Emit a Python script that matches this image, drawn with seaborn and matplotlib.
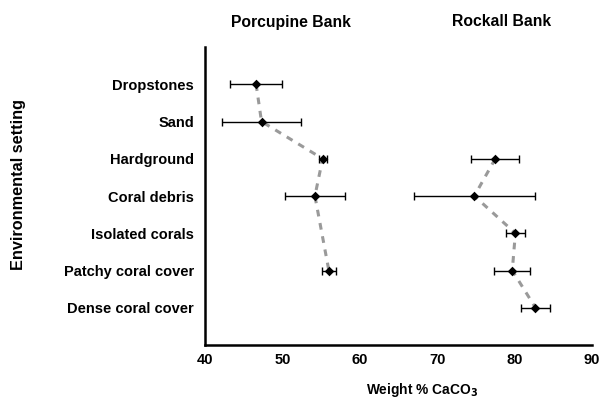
import matplotlib
matplotlib.use("Agg")
import matplotlib.pyplot as plt
import seaborn as sns
import pandas as pd
import numpy as np

sns.set_style("white")
plt.rcParams["font.family"] = ["Liberation Sans", "DejaVu Sans"]
plt.rcParams["font.weight"] = "bold"
plt.rcParams["text.color"] = "black"
plt.rcParams["axes.labelcolor"] = "black"
plt.rcParams["xtick.color"] = "black"
plt.rcParams["ytick.color"] = "black"

settings = ["Dropstones", "Sand", "Hardground", "Coral debris",
            "Isolated corals", "Patchy coral cover", "Dense coral cover"]

# Porcupine Bank: mean weight % CaCO3 and error half-widths
porcupine_setting = ["Dropstones", "Sand", "Hardground", "Coral debris", "Patchy coral cover"]
porcupine_mean = [46.6, 47.3, 55.2, 54.2, 56.0]
porcupine_err = [3.4, 5.1, 0.5, 3.85, 0.9]

# Rockall Bank
rockall_setting = ["Hardground", "Coral debris", "Isolated corals", "Patchy coral cover", "Dense coral cover"]
rockall_mean = [77.5, 74.8, 80.1, 79.7, 82.7]
rockall_err = [3.1, 7.85, 1.25, 2.35, 1.85]

fig = plt.figure(figsize=(5.99, 3.99), dpi=100)
ax = fig.add_axes([205 / 599, 1 - 345 / 399, (592 - 205) / 599, (345 - 47) / 399])

pos = {s: i for i, s in enumerate(settings)}

for name, cats, mean, err in [("Porcupine Bank", porcupine_setting, porcupine_mean, porcupine_err),
                              ("Rockall Bank", rockall_setting, rockall_mean, rockall_err)]:
    df = pd.DataFrame({"setting": cats, "caco3": mean, "err": err})
    df["y"] = df["setting"].map(pos)
    sns.lineplot(data=df, x="caco3", y="y", sort=False, estimator=None, ax=ax,
                 color="#9a9a9a", linewidth=2.2, linestyle=(0, (2.2, 2.2)), zorder=1)
    ax.errorbar(df["caco3"], df["y"], xerr=df["err"], fmt="none", ecolor="black",
                elinewidth=1.0, capsize=3, capthick=1.0, zorder=2)
    sns.scatterplot(data=df, x="caco3", y="y", ax=ax, marker="D", color="black",
                    s=24, edgecolor="black", linewidth=0, zorder=3)

ax.set_xlim(40, 90)
ax.set_ylim(7, -1)
ax.set_xticks([40, 50, 60, 70, 80, 90])
ax.set_yticks(range(len(settings)))
ax.set_yticklabels(settings)
ax.tick_params(axis="both", direction="out", length=3, width=1.2, labelsize=10.5, color="black")
ax.tick_params(axis="y", pad=5)
ax.tick_params(axis="x", pad=3)
for lab in ax.get_xticklabels() + ax.get_yticklabels():
    lab.set_fontweight("bold")

for side in ["top", "right"]:
    ax.spines[side].set_visible(False)
for side in ["left", "bottom"]:
    ax.spines[side].set_linewidth(1.8)
    ax.spines[side].set_color("black")

ax.set_xlabel("Weight % CaCO$_\\mathbf{3}$", fontsize=9.9, fontweight="bold")
ax.xaxis.set_label_coords((422 - 205) / (592 - 205), -(390 - 345) / (345 - 47))
ax.xaxis.label.set_va("center")
ax.set_ylabel("")
fig.text(19 / 599, 1 - 185 / 399, "Environmental setting", rotation=90,
         ha="center", va="center", fontsize=11.7, fontweight="bold")
fig.text(291 / 599, 1 - 22 / 399, "Porcupine Bank", ha="center", va="center",
         fontsize=11.3, fontweight="bold")
fig.text(502 / 599, 1 - 22 / 399, "Rockall Bank", ha="center", va="center",
         fontsize=11.3, fontweight="bold")

fig.savefig("out.png", dpi=100)
